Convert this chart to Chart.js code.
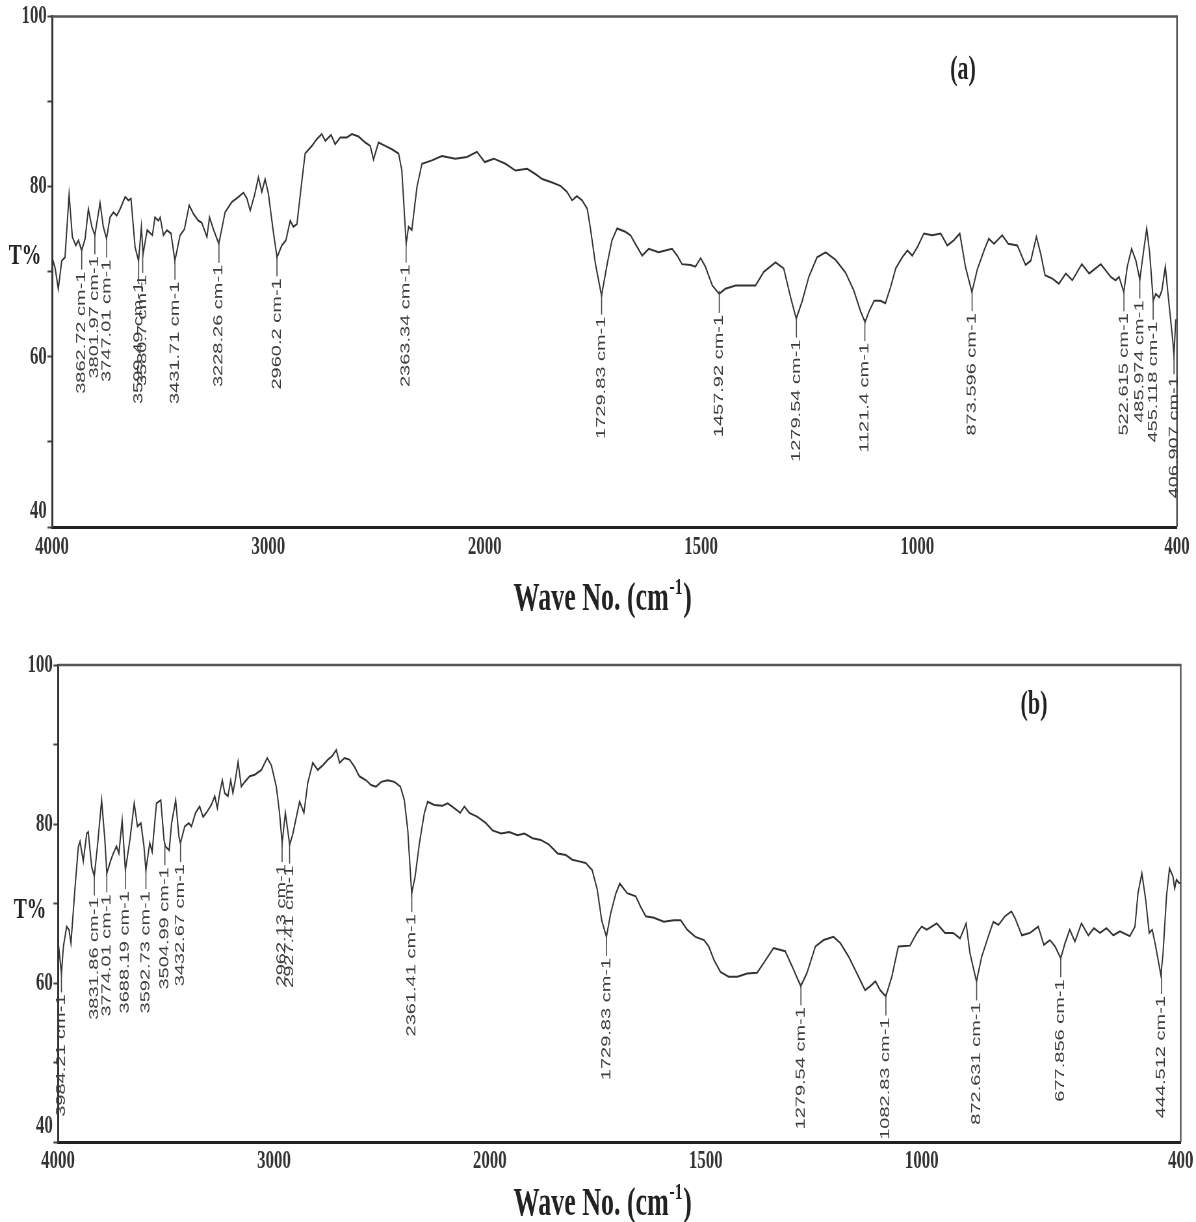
<!DOCTYPE html>
<html>
<head>
<meta charset="utf-8">
<script src="https://cdn.jsdelivr.net/npm/chart.js@4.4.1/dist/chart.umd.min.js"></script>
<style>
  html, body { margin: 0; padding: 0; background: #fff; overflow: hidden; }
  canvas { display: block; }
</style>
</head>
<body>
<!-- drawn wide, shown squeezed: the original figure is horizontally compressed -->
<canvas id="chartA" width="1840" height="620" style="width:1196px;height:620px"></canvas>
<canvas id="chartB" width="1840" height="602" style="width:1196px;height:602px"></canvas>
<script>
// x ticks of the FTIR axis (scale doubles below 2000 cm-1)
const xTicks = [4000, 3000, 2000, 1500, 1000, 400];

// spectrum (a)
const waveA = [
  4000,3986,3971,3955,3940,3921,3906,3890,3878,3863,
  3847,3832,3816,3802,3778,3763,3748,3732,3716,3701,
  3685,3662,3647,3635,3616,3600,3587,3579,3560,3536,
  3524,3508,3500,3485,3469,3450,3432,3408,3388,3366,
  3346,3323,3308,3284,3272,3254,3229,3200,3169,3138,
  3115,3099,3084,3064,3046,3030,3015,3000,2976,2960,
  2938,2919,2899,2884,2868,2845,2830,2799,2776,2753,
  2737,2710,2691,2668,2637,2614,2583,2552,2529,2514,
  2491,2460,2429,2398,2383,2363,2352,2337,2313,2290,
  2244,2198,2136,2082,2036,2000,1979,1952,1929,1902,
  1883,1867,1844,1825,1810,1798,1787,1775,1763,1756,
  1744,1730,1717,1706,1694,1675,1663,1652,1636,1621,
  1598,1567,1555,1544,1524,1513,1501,1490,1474,1458,
  1444,1420,1397,1374,1355,1328,1309,1293,1280,1266,
  1251,1232,1212,1189,1166,1147,1131,1121,1112,1100,
  1085,1074,1062,1050,1035,1023,1012,1000,985,966,
  946,931,916,902,889,874,862,846,835,823,
  804,790,769,750,738,725,715,705,688,673,
  657,642,620,603,576,553,542,534,523,515,
  505,495,486,476,470,463,455,449,441,435,
  427,420,410,407,403,400
];
const transA = [
  71.7,70.5,68.0,71.3,71.7,79.1,74.1,73.1,73.7,72.5,
  73.9,77.4,75.3,74.3,78.1,75.3,73.9,76.4,77.0,76.6,
  77.4,78.8,78.4,78.6,72.9,71.3,75.3,72.1,74.9,74.3,
  76.4,76.0,76.4,74.3,74.9,74.5,71.3,74.3,75.0,77.8,
  76.8,76.0,75.8,74.1,76.4,75.0,73.3,77.0,78.2,78.8,
  79.3,78.6,77.2,79.0,81.1,79.4,80.9,79.2,74.5,71.7,
  73.1,73.7,76.0,75.3,75.6,80.7,83.9,84.8,85.6,86.2,
  85.4,86.1,85.0,85.8,85.8,86.2,85.9,85.2,84.8,83.2,
  85.2,84.8,84.4,83.9,81.9,73.3,75.3,74.9,80.0,82.7,
  83.1,83.6,83.3,83.5,84.1,82.9,83.3,82.7,81.9,82.1,
  81.5,80.9,80.5,80.1,79.4,78.4,78.9,78.4,77.4,75.2,
  70.9,67.2,70.9,73.7,75.1,74.7,74.3,73.3,71.9,72.7,
  72.3,72.7,71.9,70.9,70.8,70.6,71.6,70.6,68.4,67.4,
  68.0,68.4,68.4,68.4,70.0,71.1,70.4,67.0,64.5,66.6,
  69.4,71.7,72.3,71.4,69.9,67.8,65.3,64.1,65.3,66.6,
  66.6,66.3,68.2,70.4,71.7,72.5,71.9,72.9,74.5,74.3,
  74.5,73.1,73.7,74.5,70.6,67.6,70.2,72.5,73.9,73.3,
  74.3,73.3,73.1,70.8,71.3,74.1,72.1,69.6,69.2,68.6,
  69.8,69.0,70.9,69.8,70.9,69.4,69.0,69.4,67.6,70.6,
  72.7,71.3,69.1,72.9,75.1,72.1,66.6,67.4,67.0,67.8,
  70.6,67.0,62.0,60.2,64.3,64.3
];
const peaksA = [3862.72, 3801.97, 3747.01, 3599.49, 3580.7, 3431.71, 3228.26, 2960.2, 2363.34,
  1729.83, 1457.92, 1279.54, 1121.4, 873.596, 522.615, 485.974, 455.118, 406.907];

// spectrum (b)
const waveB = [
  4000,3984,3975,3960,3949,3940,3921,3906,3898,3883,
  3867,3860,3844,3832,3816,3798,3783,3774,3755,3744,
  3729,3718,3703,3688,3667,3647,3632,3616,3602,3593,
  3575,3564,3544,3524,3509,3503,3485,3474,3455,3440,
  3433,3413,3394,3382,3363,3344,3328,3313,3290,3274,
  3262,3251,3239,3228,3213,3200,3190,3179,3166,3151,
  3135,3112,3089,3058,3031,3012,2989,2974,2962,2947,
  2927,2912,2896,2881,2861,2843,2820,2797,2773,2750,
  2732,2711,2696,2673,2650,2627,2604,2573,2550,2527,
  2503,2473,2442,2414,2396,2380,2362,2346,2326,2303,
  2288,2257,2219,2195,2165,2137,2118,2095,2057,2018,
  1994,1974,1955,1936,1920,1901,1882,1863,1843,1824,
  1809,1793,1778,1763,1751,1741,1730,1720,1708,1699,
  1682,1662,1651,1639,1620,1597,1574,1558,1543,1524,
  1504,1493,1481,1466,1447,1427,1404,1381,1366,1343,
  1316,1300,1280,1266,1246,1227,1204,1188,1169,1150,
  1131,1119,1107,1096,1083,1069,1054,1027,1011,1000,
  988,965,946,927,911,897,888,873,861,846,
  834,822,807,792,784,768,749,730,717,703,
  691,678,668,657,645,630,614,601,587,572,
  556,541,518,506,499,490,481,473,466,458,
  446,441,433,426,418,414,410,404,400
];
const transB = [
  65.4,61.2,64.6,67.1,66.7,65.0,72.1,77.1,77.8,75.3,
  78.8,79.0,74.6,73.4,77.6,83.0,78.0,73.8,75.5,76.3,
  77.2,76.3,80.5,74.2,78.0,82.6,79.7,80.1,77.2,74.2,
  77.6,76.5,82.6,83.0,78.0,77.2,76.7,80.1,83.0,78.4,
  77.6,79.7,80.1,79.7,81.4,82.2,80.9,81.4,82.4,83.5,
  82.0,83.9,85.5,83.9,83.5,85.5,83.9,85.5,87.8,84.7,
  85.3,86.0,86.2,86.8,88.3,87.4,84.7,81.4,77.6,81.4,
  77.4,78.8,80.9,82.8,81.4,85.2,87.7,86.8,87.4,88.1,
  88.5,89.3,87.7,88.3,88.1,87.2,86.0,85.5,84.9,84.7,
  85.3,85.5,85.3,84.7,83.0,79.2,71.3,73.4,77.6,81.4,
  82.8,82.4,82.3,82.6,82.0,81.4,82.2,81.4,80.9,80.1,
  79.2,78.8,79.0,78.6,78.8,78.2,78.0,77.4,76.3,76.1,
  75.5,75.3,75.1,74.2,71.7,67.9,65.8,68.8,71.3,72.5,
  71.3,70.9,69.6,68.4,68.2,67.7,67.9,67.9,66.7,65.8,
  65.4,64.6,62.9,61.4,60.8,60.8,61.2,61.3,62.5,64.4,
  64.0,62.1,59.6,61.2,64.6,65.4,65.8,65.0,63.3,61.2,
  59.1,59.6,60.2,59.1,58.3,60.8,64.6,64.7,66.3,67.1,
  66.7,67.5,66.3,66.3,65.6,67.5,63.7,60.2,63.3,65.8,
  67.7,67.3,68.4,69.0,68.2,66.0,66.3,67.1,64.8,65.4,
  64.6,63.1,65.0,66.7,65.2,67.5,66.0,66.9,66.3,66.9,
  66.0,66.5,65.9,67.1,71.3,73.8,70.4,66.3,66.7,64.6,
  61.0,63.7,70.9,74.4,73.4,71.9,73.0,72.6,72.5
];
const peaksB = [3984.21, 3831.86, 3774.01, 3688.19, 3592.73, 3504.99, 3432.67, 2962.13, 2927.41,
  2361.41, 1729.83, 1279.54, 1082.83, 872.631, 677.856, 444.512];

const SX = 0.65; // horizontal squeeze of the canvas
const serif = '"Liberation Serif", "Times New Roman", serif';
Chart.defaults.font.family = serif;

// wavenumber -> position, 2x stretched below 2000
function warp(w) { return w >= 2000 ? 4000 - w : 2000 + 2 * (2000 - w); }
function unwarp(p) { return p <= 2000 ? 4000 - p : 2000 - (p - 2000) / 2; }
const warpSpan = warp(400);

class WaveScale extends Chart.LinearScale {
  determineDataLimits() { this.min = 400; this.max = 4000; }
  buildTicks() { return xTicks.map(v => ({ value: v })); }
  getPixelForValue(v) { return this.getPixelForDecimal(warp(v) / warpSpan); }
  getValueForPixel(px) { return unwarp(this.getDecimalForPixel(px) * warpSpan); }
}
WaveScale.id = 'wave';
WaveScale.defaults = {};
Chart.register(WaveScale);

function peakValue(data, wn) {
  let best = null;
  data.forEach(p => {
    if (Math.abs(p.x - wn) <= 10 && (best === null || p.y < best)) best = p.y;
  });
  return best;
}

const frame = {
  id: 'frame',
  afterDatasetsDraw(chart) {
    const { ctx, chartArea: a } = chart;
    ctx.save();
    ctx.strokeStyle = '#555';
    ctx.lineWidth = 2.5;
    ctx.beginPath();
    ctx.moveTo(a.left, a.top);
    ctx.lineTo(a.right, a.top);
    ctx.lineTo(a.right, a.bottom);
    ctx.stroke();
    ctx.restore();
  }
};

const peakLabels = {
  id: 'peakLabels',
  afterDatasetsDraw(chart, args, opts) {
    const { ctx, scales: { x, y } } = chart;
    const data = chart.data.datasets[0].data;
    ctx.save();
    ctx.font = '20px "Liberation Sans", Arial, sans-serif';
    ctx.fillStyle = '#3c3c3c';
    ctx.strokeStyle = '#444';
    ctx.lineWidth = 1.6;
    ctx.textAlign = 'right';
    ctx.textBaseline = 'middle';
    opts.peaks.forEach(wn => {
      const px = x.getPixelForValue(wn);
      const py = y.getPixelForValue(peakValue(data, wn));
      const top = py + 19;
      ctx.beginPath();
      ctx.moveTo(px, py - 3);
      ctx.lineTo(px, top);
      ctx.stroke();
      ctx.save();
      ctx.translate(px, top + 2);
      ctx.rotate(-Math.PI / 2);
      ctx.fillText(wn + ' cm-1', 0, 0);
      ctx.restore();
    });
    ctx.restore();
  }
};

const panelText = {
  id: 'panelText',
  afterDraw(chart, args, o) {
    const ctx = chart.ctx;
    ctx.save();
    ctx.fillStyle = '#222';
    ctx.textBaseline = 'middle';
    ctx.textAlign = 'center';
    ctx.font = 'bold 30px ' + serif;
    ctx.fillText('T%', o.tPos[0], o.tPos[1]);
    ctx.font = 'bold 34px ' + serif;
    ctx.fillText(o.tag, o.tagPos[0], o.tagPos[1]);
    // axis title with superscript
    const big = 'bold 40px ' + serif, small = 'bold 24px ' + serif;
    const t1 = 'Wave No. (cm', t2 = '-1', t3 = ')';
    ctx.font = big; const w1 = ctx.measureText(t1).width, w3 = ctx.measureText(t3).width;
    ctx.font = small; const w2 = ctx.measureText(t2).width;
    let x0 = o.titlePos[0] - (w1 + w2 + w3) / 2;
    const yy = o.titlePos[1];
    ctx.textAlign = 'left';
    ctx.font = big; ctx.fillText(t1, x0, yy);
    ctx.font = small; ctx.fillText(t2, x0 + w1 + 1, yy - 12);
    ctx.font = big; ctx.fillText(t3, x0 + w1 + w2 + 2, yy);
    ctx.restore();
  }
};

function makeChart(id, waves, trans, cfg) {
  return new Chart(document.getElementById(id), {
    type: 'line',
    data: {
      datasets: [{
        data: waves.map((w, i) => ({ x: w, y: trans[i] })),
        borderColor: '#333',
        borderWidth: 2,
        pointRadius: 0,
        tension: 0,
        fill: false
      }]
    },
    options: {
      responsive: false,
      devicePixelRatio: 1,
      animation: false,
      layout: { padding: cfg.padding },
      plugins: {
        legend: { display: false },
        tooltip: { enabled: false },
        peakLabels: { peaks: cfg.peaks },
        panelText: { tag: cfg.tag, tagPos: cfg.tagPos, tPos: cfg.tPos, titlePos: cfg.titlePos }
      },
      scales: {
        x: {
          type: 'wave',
          position: 'bottom',
          afterFit: s => { s.height = cfg.xHeight; },
          grid: { drawOnChartArea: false, drawTicks: false },
          border: { color: '#222', width: 3 },
          ticks: {
            autoSkip: false, maxRotation: 0, padding: cfg.xPad, color: '#333',
            font: { size: 26, weight: 'bold' },
            callback: v => String(v)
          }
        },
        y: {
          min: 40, max: 100,
          afterFit: s => { s.width = cfg.yWidth; },
          grid: { drawOnChartArea: false, drawTicks: true, tickLength: 7, color: '#444', tickWidth: 2 },
          border: { color: '#333', width: 3 },
          ticks: {
            stepSize: 10, padding: 1, color: '#333',
            font: { size: 26, weight: 'bold' },
            // the bottom label sits a little above the axis in the original
            callback: v => (v === 40 ? ['40', ''] : (v % 20 === 0 ? String(v) : ''))
          }
        }
      }
    },
    plugins: [frame, peakLabels, panelText]
  });
}

makeChart('chartA', waveA, transA, {
  padding: { top: 15, right: 1840 - 1177 / SX, left: 0, bottom: 0 },
  xHeight: 93, yWidth: 52 / SX, xPad: 5,
  peaks: peaksA, tag: '(a)',
  tagPos: [963 / SX, 70], tPos: [25 / SX, 256], titlePos: [602 / SX, 600]
});

makeChart('chartB', waveB, transB, {
  padding: { top: 45, right: 1840 - 1183 / SX, left: 0, bottom: 0 },
  xHeight: 80, yWidth: 58 / SX, xPad: 4,
  peaks: peaksB, tag: '(b)',
  tagPos: [1034 / SX, 85], tPos: [30 / SX, 290], titlePos: [602 / SX, 585]
});
</script>
</body>
</html>
